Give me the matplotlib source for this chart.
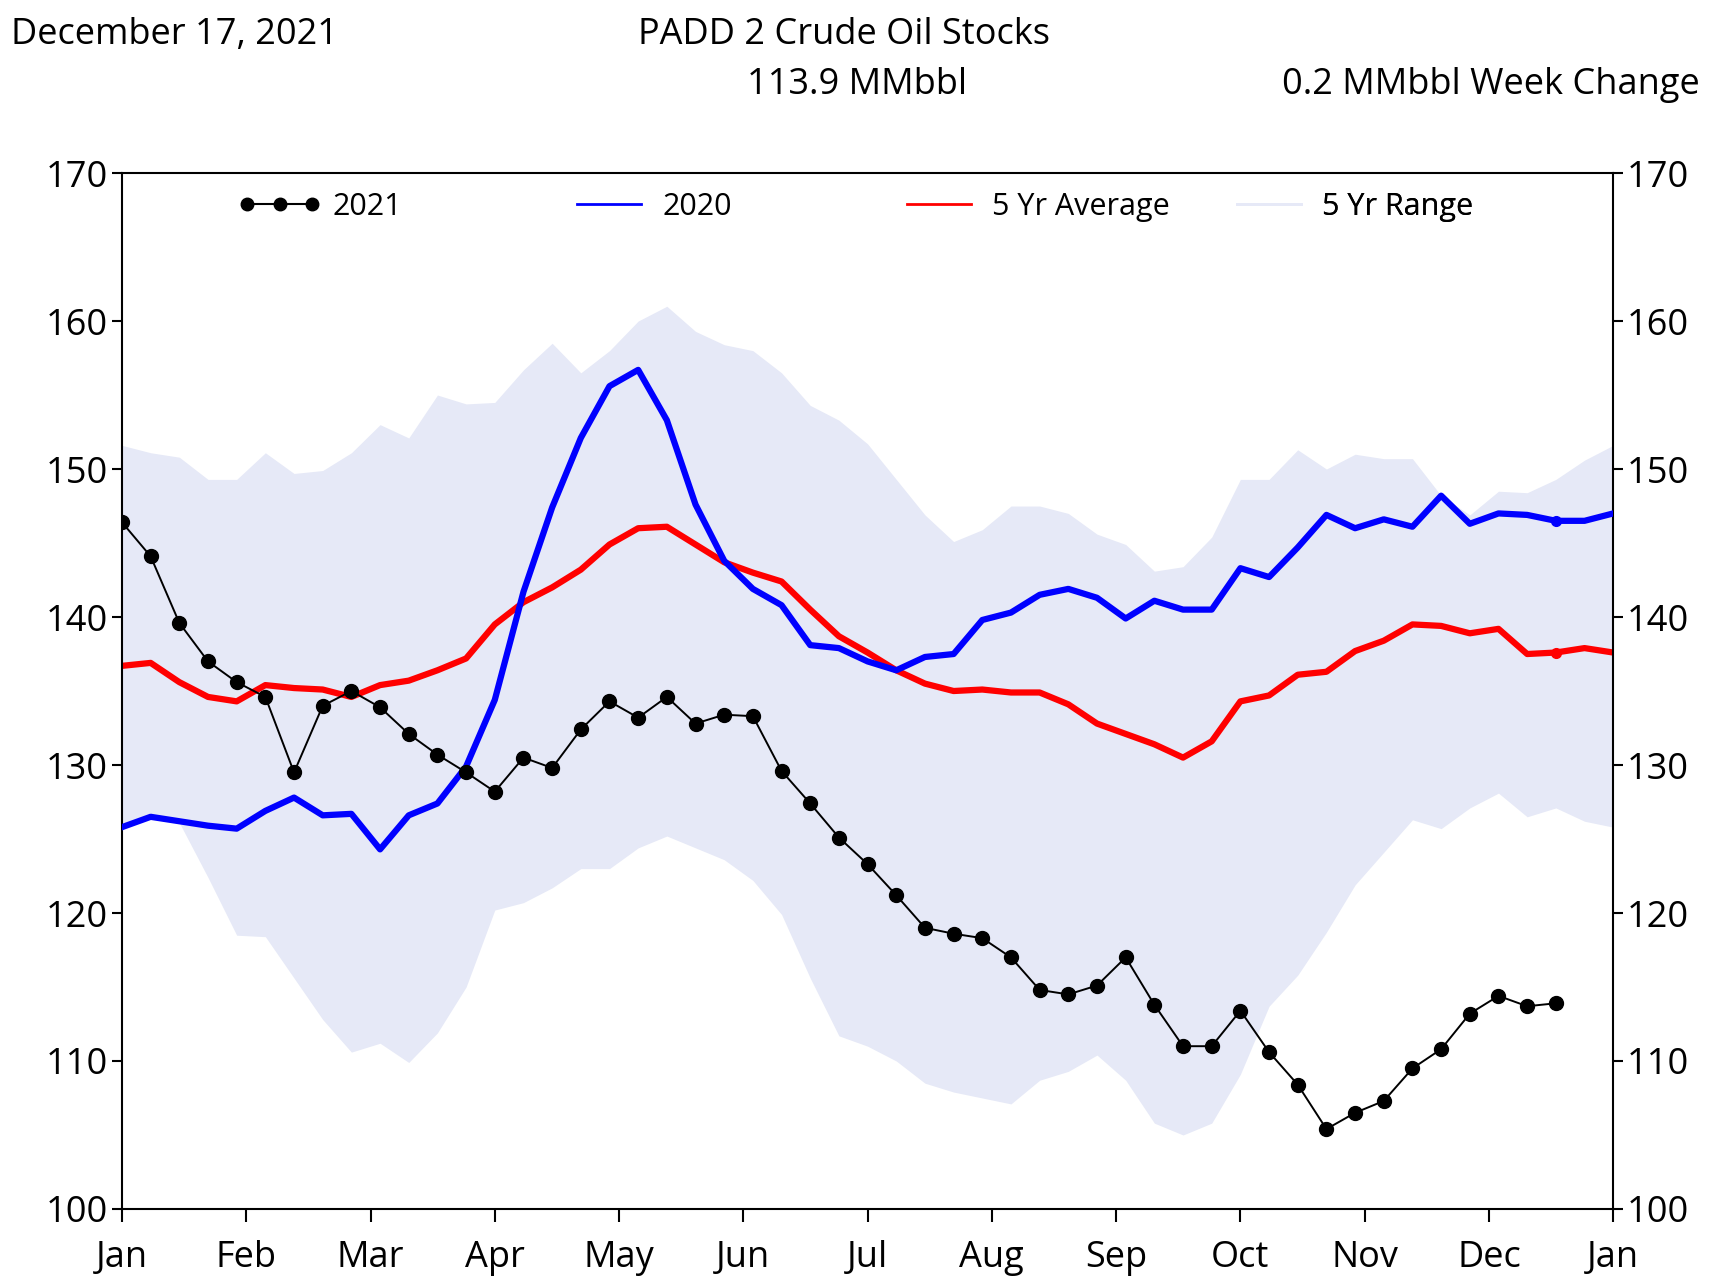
import numpy as np
import matplotlib
matplotlib.use('Agg')
import matplotlib.pyplot as plt
from matplotlib.lines import Line2D

plt.rcParams['font.family'] = ['Open Sans', 'DejaVu Sans']

# Weekly stocks, MMbbl (week 0 = first week of Jan)
month_labels = ['Jan', 'Feb', 'Mar', 'Apr', 'May', 'Jun', 'Jul', 'Aug', 'Sep', 'Oct', 'Nov', 'Dec', 'Jan']

stocks_2021 = [146.4, 144.1, 139.6, 137.0, 135.6, 134.6, 129.5, 134.0, 135.0, 133.9,
               132.1, 130.7, 129.5, 128.2, 130.5, 129.8, 132.4, 134.3, 133.2, 134.6,
               132.8, 133.4, 133.3, 129.6, 127.4, 125.1, 123.3, 121.2, 119.0, 118.6,
               118.3, 117.0, 114.8, 114.5, 115.1, 117.0, 113.8, 111.0, 111.0, 113.4,
               110.6, 108.4, 105.4, 106.5, 107.3, 109.5, 110.8, 113.2, 114.4, 113.7,
               113.9]

stocks_2020 = [125.8, 126.5, 126.2, 125.9, 125.7, 126.9, 127.8, 126.6, 126.7, 124.3,
               126.6, 127.4, 129.9, 134.4, 141.7, 147.4, 152.1, 155.6, 156.7, 153.3,
               147.6, 143.8, 141.9, 140.8, 138.1, 137.9, 137.0, 136.4, 137.3, 137.5,
               139.8, 140.3, 141.5, 141.9, 141.3, 139.9, 141.1, 140.5, 140.5, 143.3,
               142.7, 144.7, 146.9, 146.0, 146.6, 146.1, 148.2, 146.3, 147.0, 146.9,
               146.5, 146.5, 147.0]

avg_5yr = [136.7, 136.9, 135.6, 134.6, 134.3, 135.4, 135.2, 135.1, 134.6, 135.4,
           135.7, 136.4, 137.2, 139.5, 141.0, 142.0, 143.2, 144.9, 146.0, 146.1,
           144.9, 143.7, 143.0, 142.4, 140.5, 138.7, 137.6, 136.4, 135.5, 135.0,
           135.1, 134.9, 134.9, 134.1, 132.8, 132.1, 131.4, 130.5, 131.6, 134.3,
           134.7, 136.1, 136.3, 137.7, 138.4, 139.5, 139.4, 138.9, 139.2, 137.5,
           137.6, 137.9, 137.6]

range_max = [151.6, 151.1, 150.8, 149.3, 149.3, 151.1, 149.7, 149.9, 151.1, 153.0,
             152.1, 155.0, 154.4, 154.5, 156.7, 158.5, 156.5, 158.0, 160.0, 161.0,
             159.3, 158.4, 158.0, 156.5, 154.3, 153.3, 151.7, 149.3, 146.9, 145.1,
             145.9, 147.5, 147.5, 147.0, 145.6, 144.9, 143.1, 143.4, 145.4, 149.3,
             149.3, 151.3, 150.0, 151.0, 150.7, 150.7, 148.2, 146.9, 148.5, 148.4,
             149.3, 150.6, 151.6]

range_min = [125.8, 126.5, 126.1, 122.4, 118.5, 118.4, 115.6, 112.8, 110.6, 111.2,
             109.9, 111.9, 115.0, 120.2, 120.7, 121.7, 123.0, 123.0, 124.4, 125.2,
             124.4, 123.6, 122.2, 119.9, 115.6, 111.7, 111.0, 110.0, 108.5, 107.9,
             107.5, 107.1, 108.7, 109.3, 110.4, 108.7, 105.8, 105.0, 105.8, 109.1,
             113.7, 115.8, 118.7, 121.9, 124.1, 126.3, 125.7, 127.1, 128.1, 126.5,
             127.1, 126.2, 125.8]

weeks_2021 = np.arange(len(stocks_2021))
weeks = np.arange(len(stocks_2020))
current_week = weeks_2021[-1]
range_color = '#e6e9f7'

fig = plt.figure(figsize=(17.18, 12.78), dpi=100)
ax = fig.add_axes([0.071, 0.054, 0.868, 0.8106])

ax.fill_between(weeks, range_min, range_max, color=range_color, linewidth=0, zorder=1)
ax.plot(weeks, avg_5yr, color='red', linewidth=4.5, zorder=2)
ax.plot(weeks, stocks_2020, color='blue', linewidth=4.5, zorder=3)
ax.plot(current_week, avg_5yr[current_week], 'o', color='red', markersize=7, zorder=2)
ax.plot(current_week, stocks_2020[current_week], 'o', color='blue', markersize=7, zorder=3)
ax.plot(weeks_2021, stocks_2021, color='black', linewidth=1.4, marker='o',
        markersize=10, zorder=4)

# Eixos
ax.set_xlim(0, 52)
ax.set_ylim(100, 170)
ax.set_xticks(np.linspace(0, 52, len(month_labels)))
ax.set_xticklabels(month_labels)
ax.set_yticks(np.arange(100, 171, 10))
ax.tick_params(axis='both', labelsize=26, length=7, width=1.5, direction='out', pad=3)
ax.tick_params(axis='x', length=9, pad=13)
ax.tick_params(axis='y', right=True, labelright=True)
for spine in ax.spines.values():
    spine.set_linewidth(1.5)

# Legend entries spread evenly along the top
handles = [
    Line2D([], [], color='black', linewidth=1.5, marker='o', markersize=9),
    Line2D([], [], color='blue', linewidth=2),
    Line2D([], [], color='red', linewidth=2),
    Line2D([], [], color=range_color, linewidth=2),
]
labels = ['2021', '2020', '5 Yr Average', '5 Yr Range']
for i, (h, lab) in enumerate(zip(handles, labels)):
    leg = ax.legend([h], [lab], loc='center left', bbox_to_anchor=(0.078 + 0.2212 * i, 0.9675),
                    frameon=False, fontsize=22, handlelength=2.7, handletextpad=0.38,
                    numpoints=3 if i == 0 else 2, borderpad=0, borderaxespad=0)
    ax.add_artist(leg)

# Cabeçalho
fig.text(0.0064, 0.9725, 'December 17, 2021', fontsize=26, ha='left', va='center')
fig.text(0.491, 0.9725, 'PADD 2 Crude Oil Stocks', fontsize=26, ha='center', va='center')
fig.text(0.499, 0.9335, '113.9 MMbbl', fontsize=26, ha='center', va='center')
fig.text(0.9895, 0.9335, '0.2 MMbbl Week Change', fontsize=26, ha='right', va='center')

plt.savefig('out.png', dpi=100)
